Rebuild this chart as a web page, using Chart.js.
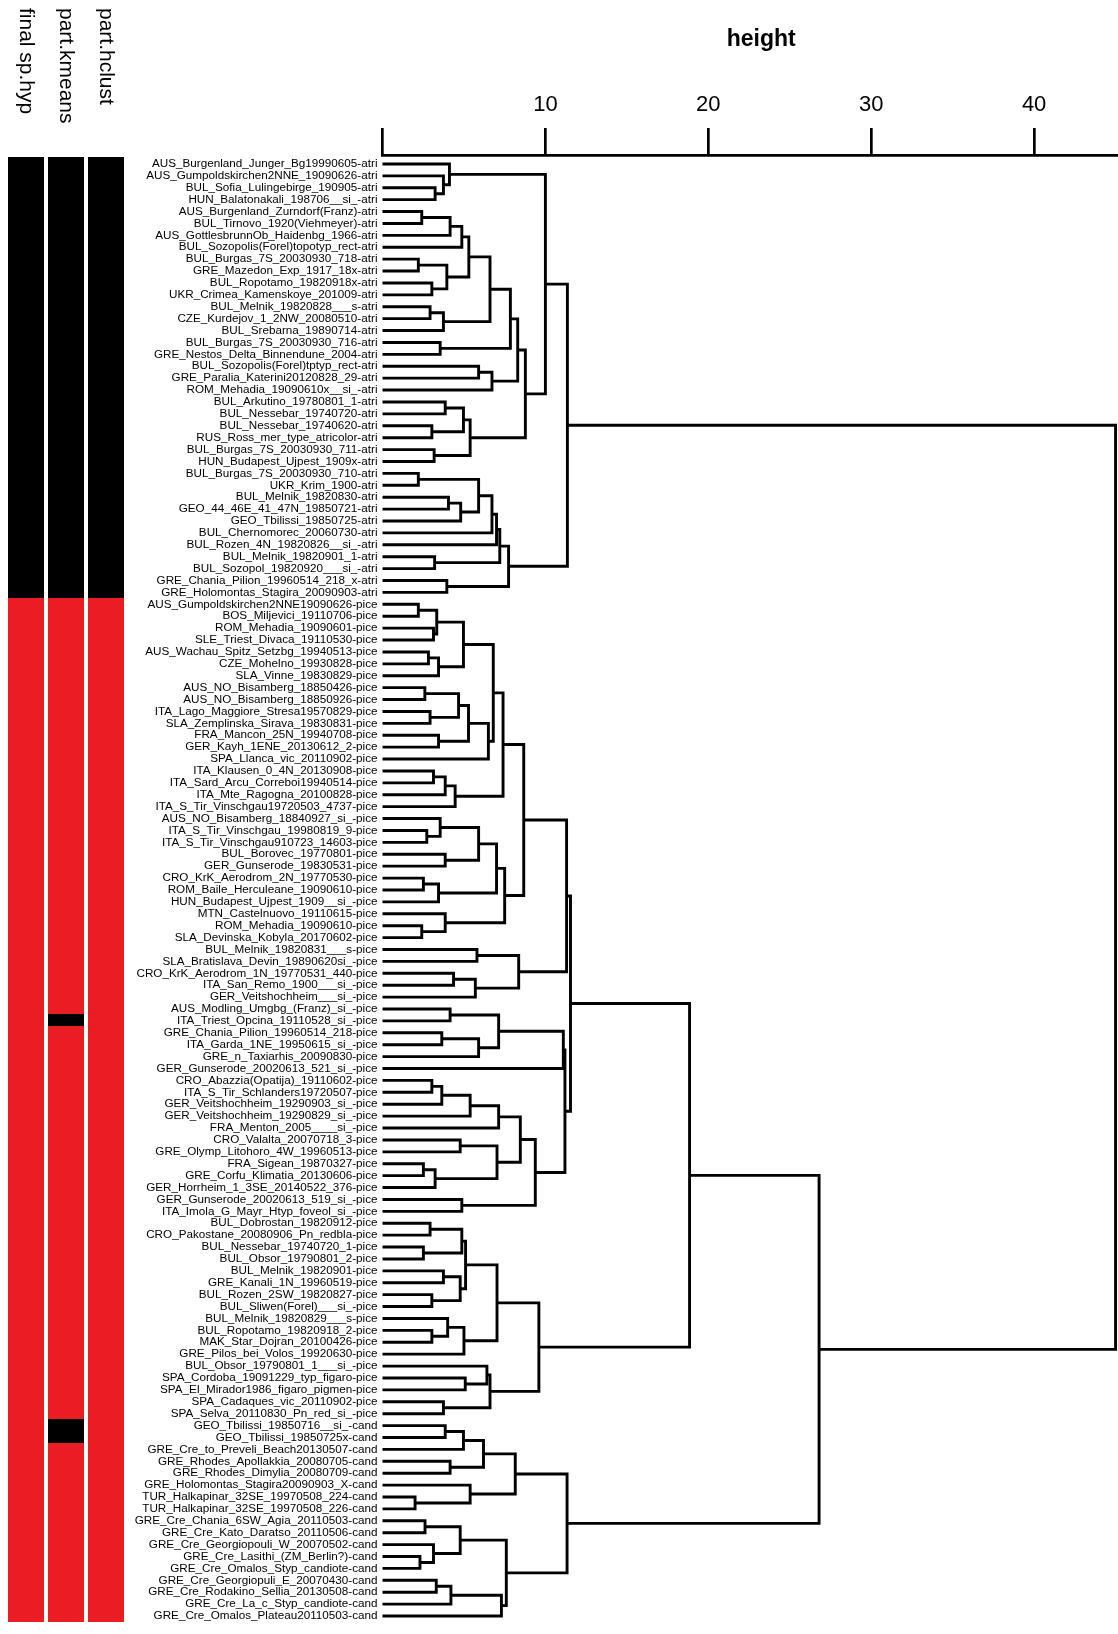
<!DOCTYPE html>
<html><head><meta charset="utf-8">
<script src="https://cdn.jsdelivr.net/npm/chart.js@4.4.0/dist/chart.umd.min.js"></script>
<style>
html,body{margin:0;padding:0;background:#fff;overflow:hidden;}
#wrap{position:relative;width:1118px;height:1634px;overflow:hidden;}
canvas{display:block;}
</style>
</head><body><div id="wrap"><canvas id="c" width="1140" height="1634" style="width:1140px;height:1634px"></canvas></div>
<script>
// ---------------- data ----------------
const leafLabels = [
"AUS_Burgenland_Junger_Bg19990605-atri","AUS_Gumpoldskirchen2NNE_19090626-atri","BUL_Sofia_Lulingebirge_190905-atri","HUN_Balatonakali_198706__si_-atri","AUS_Burgenland_Zurndorf(Franz)-atri",
"BUL_Tirnovo_1920(Viehmeyer)-atri","AUS_GottlesbrunnOb_Haidenbg_1966-atri","BUL_Sozopolis(Forel)topotyp_rect-atri","BUL_Burgas_7S_20030930_718-atri","GRE_Mazedon_Exp_1917_18x-atri",
"BUL_Ropotamo_19820918x-atri","UKR_Crimea_Kamenskoye_201009-atri","BUL_Melnik_19820828___s-atri","CZE_Kurdejov_1_2NW_20080510-atri","BUL_Srebarna_19890714-atri",
"BUL_Burgas_7S_20030930_716-atri","GRE_Nestos_Delta_Binnendune_2004-atri","BUL_Sozopolis(Forel)tptyp_rect-atri","GRE_Paralia_Katerini20120828_29-atri","ROM_Mehadia_19090610x__si_-atri",
"BUL_Arkutino_19780801_1-atri","BUL_Nessebar_19740720-atri","BUL_Nessebar_19740620-atri","RUS_Ross_mer_type_atricolor-atri","BUL_Burgas_7S_20030930_711-atri",
"HUN_Budapest_Ujpest_1909x-atri","BUL_Burgas_7S_20030930_710-atri","UKR_Krim_1900-atri","BUL_Melnik_19820830-atri","GEO_44_46E_41_47N_19850721-atri",
"GEO_Tbilissi_19850725-atri","BUL_Chernomorec_20060730-atri","BUL_Rozen_4N_19820826__si_-atri","BUL_Melnik_19820901_1-atri","BUL_Sozopol_19820920___si_-atri",
"GRE_Chania_Pilion_19960514_218_x-atri","GRE_Holomontas_Stagira_20090903-atri","AUS_Gumpoldskirchen2NNE19090626-pice","BOS_Miljevici_19110706-pice","ROM_Mehadia_19090601-pice",
"SLE_Triest_Divaca_19110530-pice","AUS_Wachau_Spitz_Setzbg_19940513-pice","CZE_Mohelno_19930828-pice","SLA_Vinne_19830829-pice","AUS_NO_Bisamberg_18850426-pice",
"AUS_NO_Bisamberg_18850926-pice","ITA_Lago_Maggiore_Stresa19570829-pice","SLA_Zemplinska_Sirava_19830831-pice","FRA_Mancon_25N_19940708-pice","GER_Kayh_1ENE_20130612_2-pice",
"SPA_Llanca_vic_20110902-pice","ITA_Klausen_0_4N_20130908-pice","ITA_Sard_Arcu_Correboi19940514-pice","ITA_Mte_Ragogna_20100828-pice","ITA_S_Tir_Vinschgau19720503_4737-pice",
"AUS_NO_Bisamberg_18840927_si_-pice","ITA_S_Tir_Vinschgau_19980819_9-pice","ITA_S_Tir_Vinschgau910723_14603-pice","BUL_Borovec_19770801-pice","GER_Gunserode_19830531-pice",
"CRO_KrK_Aerodrom_2N_19770530-pice","ROM_Baile_Herculeane_19090610-pice","HUN_Budapest_Ujpest_1909__si_-pice","MTN_Castelnuovo_19110615-pice","ROM_Mehadia_19090610-pice",
"SLA_Devinska_Kobyla_20170602-pice","BUL_Melnik_19820831___s-pice","SLA_Bratislava_Devin_19890620si_-pice","CRO_KrK_Aerodrom_1N_19770531_440-pice","ITA_San_Remo_1900___si_-pice",
"GER_Veitshochheim___si_-pice","AUS_Modling_Umgbg_(Franz)_si_-pice","ITA_Triest_Opcina_19110528_si_-pice","GRE_Chania_Pilion_19960514_218-pice","ITA_Garda_1NE_19950615_si_-pice",
"GRE_n_Taxiarhis_20090830-pice","GER_Gunserode_20020613_521_si_-pice","CRO_Abazzia(Opatija)_19110602-pice","ITA_S_Tir_Schlanders19720507-pice","GER_Veitshochheim_19290903_si_-pice",
"GER_Veitshochheim_19290829_si_-pice","FRA_Menton_2005____si_-pice","CRO_Valalta_20070718_3-pice","GRE_Olymp_Litohoro_4W_19960513-pice","FRA_Sigean_19870327-pice",
"GRE_Corfu_Klimatia_20130606-pice","GER_Horrheim_1_3SE_20140522_376-pice","GER_Gunserode_20020613_519_si_-pice","ITA_Imola_G_Mayr_Htyp_foveol_si_-pice","BUL_Dobrostan_19820912-pice",
"CRO_Pakostane_20080906_Pn_redbla-pice","BUL_Nessebar_19740720_1-pice","BUL_Obsor_19790801_2-pice","BUL_Melnik_19820901-pice","GRE_Kanali_1N_19960519-pice",
"BUL_Rozen_2SW_19820827-pice","BUL_Sliwen(Forel)___si_-pice","BUL_Melnik_19820829___s-pice","BUL_Ropotamo_19820918_2-pice","MAK_Star_Dojran_20100426-pice",
"GRE_Pilos_bei_Volos_19920630-pice","BUL_Obsor_19790801_1___si_-pice","SPA_Cordoba_19091229_typ_figaro-pice","SPA_El_Mirador1986_figaro_pigmen-pice","SPA_Cadaques_vic_20110902-pice",
"SPA_Selva_20110830_Pn_red_si_-pice","GEO_Tbilissi_19850716__si_-cand","GEO_Tbilissi_19850725x-cand","GRE_Cre_to_Preveli_Beach20130507-cand","GRE_Rhodes_Apollakkia_20080705-cand",
"GRE_Rhodes_Dimylia_20080709-cand","GRE_Holomontas_Stagira20090903_X-cand","TUR_Halkapinar_32SE_19970508_224-cand","TUR_Halkapinar_32SE_19970508_226-cand","GRE_Cre_Chania_6SW_Agia_20110503-cand",
"GRE_Cre_Kato_Daratso_20110506-cand","GRE_Cre_Georgiopouli_W_20070502-cand","GRE_Cre_Lasithi_(ZM_Berlin?)-cand","GRE_Cre_Omalos_Styp_candiote-cand","GRE_Cre_Georgiopuli_E_20070430-cand",
"GRE_Cre_Rodakino_Sellia_20130508-cand","GRE_Cre_La_c_Styp_candiote-cand","GRE_Cre_Omalos_Plateau20110503-cand"
];

// height of the bracket joining leaf i and leaf i+1
const joinHeight = [
 4.11,3.74,3.23,10.0,2.41,4.15,4.87,5.3,2.2,3.95,    // 1|2 .. 10|11
 3.03,6.6,2.92,3.74,7.85,3.54,8.3,5.9,6.72,8.77,     // 11|12 .. 20|21
 3.85,4.97,3.03,5.38,3.17,11.35,2.2,5.9,4.05,4.8,    // 21|22 .. 30|31
 6.72,7.0,7.2,3.2,7.74,3.95,45.0,2.2,3.33,3.13,      // 31|32 .. 40|41
 4.97,2.82,3.44,6.8,2.6,4.67,2.92,5.28,3.44,6.5,     // 41|42 .. 50|51
 7.4,3.13,3.85,4.46,8.67,3.54,2.72,5.9,3.85,7.0,     // 51|52 .. 60|61
 2.51,3.44,7.5,3.85,2.41,11.3,5.8,8.36,4.36,5.7,     // 61|62 .. 70|71
 11.54,4.15,7.13,3.64,5.9,11.1,11.2,3.03,3.64,5.38,  // 71|72 .. 80|81
 7.13,8.46,4.77,7.03,2.51,3.23,9.38,4.87,18.85,2.92, // 81|82 .. 90|91
 4.87,2.51,5.1,3.74,4.77,3.03,7.03,4.0,3.03,5.0,     // 91|92 .. 100|101
 9.6,6.41,5.08,6.6,3.74,26.8,3.85,4.97,6.2,4.15,     // 101|102 .. 110|111
 8.15,5.38,2.0,11.33,2.61,4.77,3.13,2.3,7.6,3.3,     // 111|112 .. 120|121
 4.2,7.3                                             // 121|122 .. 122|123
];

// group membership for the three side bars (1 = black, 2 = red)
const finalSpHyp = [
 1,1,1,1,1,1,1,1,1,1, 1,1,1,1,1,1,1,1,1,1, 1,1,1,1,1,1,1,1,1,1, 1,1,1,1,1,1,1,2,2,2,
 2,2,2,2,2,2,2,2,2,2, 2,2,2,2,2,2,2,2,2,2, 2,2,2,2,2,2,2,2,2,2, 2,2,2,2,2,2,2,2,2,2,
 2,2,2,2,2,2,2,2,2,2, 2,2,2,2,2,2,2,2,2,2, 2,2,2,2,2,2,2,2,2,2, 2,2,2,2,2,2,2,2,2,2,
 2,2,2
];
const partKmeans = [
 1,1,1,1,1,1,1,1,1,1, 1,1,1,1,1,1,1,1,1,1, 1,1,1,1,1,1,1,1,1,1, 1,1,1,1,1,1,1,2,2,2,
 2,2,2,2,2,2,2,2,2,2, 2,2,2,2,2,2,2,2,2,2, 2,2,2,2,2,2,2,2,2,2, 2,2,1,2,2,2,2,2,2,2,
 2,2,2,2,2,2,2,2,2,2, 2,2,2,2,2,2,2,2,2,2, 2,2,2,2,2,2,1,1,2,2, 2,2,2,2,2,2,2,2,2,2,
 2,2,2
];
const partHclust = [
 1,1,1,1,1,1,1,1,1,1, 1,1,1,1,1,1,1,1,1,1, 1,1,1,1,1,1,1,1,1,1, 1,1,1,1,1,1,1,2,2,2,
 2,2,2,2,2,2,2,2,2,2, 2,2,2,2,2,2,2,2,2,2, 2,2,2,2,2,2,2,2,2,2, 2,2,2,2,2,2,2,2,2,2,
 2,2,2,2,2,2,2,2,2,2, 2,2,2,2,2,2,2,2,2,2, 2,2,2,2,2,2,2,2,2,2, 2,2,2,2,2,2,2,2,2,2,
 2,2,2
];
const columnTitles = ["final sp.hyp","part.kmeans","part.hclust"];
const tickValues = [0,10,20,30,40];
const tickLabels = ["","10","20","30","40"];
const axisTitle = "height";

// ---------------- build dendrogram from the adjacent-join heights ----------------
function buildTree(lo, hi){
  if (lo === hi) return {h:0, y:lo+1};
  let k = lo;
  for (let i = lo; i < hi; i++) if (joinHeight[i] > joinHeight[k]) k = i;
  const a = buildTree(lo, k), b = buildTree(k+1, hi);
  return {h: joinHeight[k], y:(a.y+b.y)/2, a, b};
}
const root = buildTree(0, leafLabels.length-1);
const datasets = [];
(function walk(n){
  if (!n.a) return;
  datasets.push({
    data:[{x:n.a.h,y:n.a.y},{x:n.h,y:n.a.y},{x:n.h,y:n.b.y},{x:n.b.h,y:n.b.y}],
    showLine:true, borderColor:'#000', borderWidth:2.9, pointRadius:0,
    borderJoinStyle:'miter', borderCapStyle:'butt', fill:false, tension:0, clip:false
  });
  walk(n.a); walk(n.b);
})(root);

const groupColors = {1:'#000000', 2:'#ec1c24'};
const sidebar = {
  id:'sidebar',
  afterDraw(chart){
    const ctx = chart.ctx, ys = chart.scales.y;
    const cols = [finalSpHyp, partKmeans, partHclust];
    const colX = [[8,44],[48,84],[88,124]];
    cols.forEach((arr, ci) => {
      arr.forEach((g, i) => {
        const y0 = Math.floor(ys.getPixelForValue(i+0.5));
        const y1 = Math.ceil(ys.getPixelForValue(i+1.5));
        ctx.fillStyle = groupColors[g];
        ctx.fillRect(colX[ci][0], y0, colX[ci][1]-colX[ci][0], y1-y0);
      });
      ctx.save();
      ctx.fillStyle = '#000';
      ctx.font = '21px "Liberation Sans", Arial, sans-serif';
      ctx.translate((colX[ci][0]+colX[ci][1])/2, 8);
      ctx.rotate(Math.PI/2);
      ctx.textAlign = 'left'; ctx.textBaseline = 'middle';
      ctx.fillText(columnTitles[ci], 0, 0);
      ctx.restore();
    });
  }
};

new Chart(document.getElementById('c'), {
  type:'scatter',
  data:{datasets},
  plugins:[sidebar],
  options:{
    responsive:false, animation:false, devicePixelRatio:1,
    layout:{padding:0},
    plugins:{legend:{display:false}, tooltip:{enabled:false}},
    scales:{
      x:{
        type:'linear', position:'top', min:0, max:46.5,
        afterFit(s){ s.height = 155; },
        afterBuildTicks(s){ s.ticks = tickValues.map(v=>({value:v})); },
        ticks:{ callback:(v)=> tickLabels[tickValues.indexOf(v)] ?? '', font:{size:22, family:'"Liberation Sans", Arial, sans-serif'}, color:'#000', padding:10, maxRotation:0 },
        grid:{ drawOnChartArea:false, drawTicks:true, tickLength:27, color:'#000', lineWidth:2.7 },
        border:{ display:true, color:'#000', width:2.7 },
        title:{ display:true, text:axisTitle, color:'#000', font:{size:23, weight:'bold', family:'"Liberation Sans", Arial, sans-serif'}, padding:{top:26, bottom:0} }
      },
      y:{
        type:'linear', reverse:true, min:0.25, max:123.5,
        afterFit(s){ s.width = 382.5; },
        afterBuildTicks(s){ s.ticks = leafLabels.map((_,i)=>({value:i+1})); },
        ticks:{ autoSkip:false, callback:(v)=> leafLabels[v-1] ?? '', font:{size:11.7, family:'"Liberation Sans", Arial, sans-serif'}, color:'#000', padding:5 },
        grid:{ display:false, drawTicks:false },
        border:{ display:false }
      }
    }
  }
});
</script>
</body></html>
